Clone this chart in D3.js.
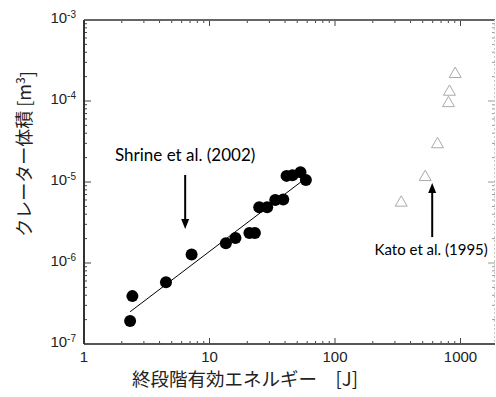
<!DOCTYPE html>
<html>
<head>
<meta charset="utf-8">
<script src="https://cdn.jsdelivr.net/npm/d3@7"></script>
<style>
  body { margin: 0; background: #fff; }
  svg { display: block; }
</style>
</head>
<body>
<div id="chart"></div>
<script>
// Shrine et al. (2002) - filled circles
const shrineEnergy = [2.33, 2.43, 4.5, 7.2, 13.5, 16.1, 20.8, 23.0, 24.9, 28.8, 33.4, 38.7, 41.1, 45.8, 53.1, 58.6];
const shrineVolume = [1.92e-7, 3.9e-7, 5.8e-7, 1.27e-6, 1.75e-6, 2.04e-6, 2.35e-6, 2.35e-6, 4.87e-6, 4.87e-6, 6.0e-6, 6.1e-6, 1.19e-5, 1.21e-5, 1.32e-5, 1.06e-5];

// Kato et al. (1995) - open triangles
const katoEnergy = [907, 817, 802, 656, 523, 337];
const katoVolume = [2.15e-4, 1.30e-4, 9.4e-5, 2.92e-5, 1.15e-5, 5.55e-6];

// fitted power law (end points)
const fitEnergy = [2.33, 54.8];
const fitVolume = [2.5e-7, 1.03e-5];

const xTickValues = [1, 10, 100, 1000];
const xTickLabels = ["1", "10", "100", "1000"];
const yTickValues = [1e-7, 1e-6, 1e-5, 1e-4, 1e-3];
const yTickExps = ["-7", "-6", "-5", "-4", "-3"];

// set the dimensions and margins
const margin = {top: 20, right: 1, bottom: 53, left: 84},
    width = 496 - margin.left - margin.right,
    height = 397 - margin.top - margin.bottom;

const x = d3.scaleLog()
    .domain([1, Math.pow(10, width / 125.5)])
    .range([0, width]);
const y = d3.scaleLog()
    .domain([1e-7, 1e-3])
    .range([height, 0]);

const svg = d3.select("#chart").append("svg")
    .attr("width", width + margin.left + margin.right)
    .attr("height", height + margin.top + margin.bottom)
    .append("g")
    .attr("transform", "translate(" + margin.left + "," + margin.top + ")");

const axisFont = "'Liberation Sans', Arial, sans-serif";
const isMajor = d => Math.abs(Math.log10(d) - Math.round(Math.log10(d))) < 1e-6;

// minor + major ticks (all pointing inward)
const xTicks = x.ticks().filter(d => d >= 1);
const yTicks = y.ticks();

function drawXTicks(y0, dir) {
    svg.append("g").selectAll("line")
        .data(xTicks)
        .enter().append("line")
        .attr("x1", d => x(d)).attr("x2", d => x(d))
        .attr("y1", y0)
        .attr("y2", d => y0 + dir * (isMajor(d) ? 6 : 3))
        .style("stroke", "#444").style("stroke-width", 1);
}
function drawYTicks(x0, dir, col) {
    svg.append("g").selectAll("line")
        .data(yTicks)
        .enter().append("line")
        .attr("y1", d => y(d)).attr("y2", d => y(d))
        .attr("x1", x0)
        .attr("x2", d => x0 + dir * (isMajor(d) ? 7 : 3))
        .style("stroke", col).style("stroke-width", 1);
}
drawXTicks(height, -1);
drawXTicks(0, 1);
drawYTicks(0, 1, "#444");
drawYTicks(width, -1, "#999");

// frame
svg.append("line").attr("x1", 0).attr("x2", width).attr("y1", height).attr("y2", height)
    .style("stroke", "#555").style("stroke-width", 2);
svg.append("line").attr("x1", 0).attr("x2", width).attr("y1", 0).attr("y2", 0)
    .style("stroke", "#666").style("stroke-width", 2);
svg.append("line").attr("x1", 0).attr("x2", 0).attr("y1", 0).attr("y2", height)
    .style("stroke", "#333").style("stroke-width", 2);
svg.append("line").attr("x1", width - 0.5).attr("x2", width - 0.5).attr("y1", 0).attr("y2", height)
    .style("stroke", "#ccc").style("stroke-width", 1).style("stroke-dasharray", "2,2");

// x tick labels
svg.append("g").selectAll("text")
    .data(xTickValues)
    .enter().append("text")
    .attr("x", d => x(d))
    .attr("y", height + 18)
    .style("text-anchor", "middle")
    .style("font-family", axisFont)
    .style("font-size", "15px")
    .style("fill", "#222")
    .text((d, i) => xTickLabels[i]);

// y tick labels: 10^n
const yLab = svg.append("g").selectAll("text")
    .data(yTickValues)
    .enter().append("text")
    .attr("x", -8)
    .attr("y", d => y(d) + 3)
    .style("text-anchor", "end")
    .style("font-family", axisFont)
    .style("font-size", "15px")
    .style("fill", "#222");
yLab.append("tspan").text("10");
yLab.append("tspan")
    .attr("dy", "-0.55em")
    .style("font-size", "10px")
    .text((d, i) => yTickExps[i]);

// axis titles
svg.append("text")
    .attr("x", 245 - margin.left)
    .attr("y", height + 42)
    .style("text-anchor", "middle")
    .style("font-family", "'Noto Sans CJK JP', sans-serif")
    .style("font-size", "18.5px")
    .style("fill", "#222")
    .text("終段階有効エネルギー　[J]");

const yTitle = svg.append("text")
    .attr("transform", "translate(" + (31 - margin.left) + "," + (154 - margin.top) + ") rotate(-90)")
    .style("text-anchor", "middle")
    .style("font-family", "'Noto Sans CJK JP', sans-serif")
    .style("font-size", "18px")
    .style("fill", "#222");
yTitle.append("tspan").text("クレーター体積 [m");
yTitle.append("tspan").attr("dy", "-0.5em").style("font-size", "12px").text("3");
yTitle.append("tspan").attr("dy", "0.5em").text("]");

// fit line
const line = d3.line()
    .x(d => x(d[0]))
    .y(d => y(d[1]));
svg.append("path")
    .attr("d", line(fitEnergy.map((e, i) => [e, fitVolume[i]])))
    .style("fill", "none")
    .style("stroke", "#000")
    .style("stroke-width", 1);

// Shrine points
svg.selectAll(".dot")
    .data(shrineEnergy.map((e, i) => [e, shrineVolume[i]]))
    .enter().append("circle")
    .attr("class", "dot")
    .attr("cx", d => x(d[0]))
    .attr("cy", d => y(d[1]))
    .attr("r", 6)
    .style("fill", "#000");

// Kato triangles
svg.selectAll(".tri")
    .data(katoEnergy.map((e, i) => [e, katoVolume[i]]))
    .enter().append("path")
    .attr("class", "tri")
    .attr("transform", d => "translate(" + x(d[0]) + "," + y(d[1]) + ")")
    .attr("d", d3.symbol().type(d3.symbolTriangle).size(62))
    .style("fill", "#fff")
    .style("stroke", "#aaa")
    .style("stroke-width", 1);

// annotations with arrows
function arrow(xv, yFrom, yTo) {
    const px = x(xv), y0 = y(yFrom), y1 = y(yTo);
    const dir = y1 > y0 ? 1 : -1;
    svg.append("line")
        .attr("x1", px).attr("x2", px)
        .attr("y1", y0).attr("y2", y1 - dir * 8)
        .style("stroke", "#000").style("stroke-width", 2);
    svg.append("path")
        .attr("d", "M" + px + "," + y1 + "L" + (px - 4) + "," + (y1 - dir * 10) + "L" + (px + 4) + "," + (y1 - dir * 10) + "Z")
        .style("fill", "#000");
}
arrow(6.4, 1.22e-5, 2.63e-6);
arrow(595, 2.09e-6, 9.7e-6);

svg.append("text")
    .attr("x", x(6.4))
    .attr("y", y(1.22e-5) - 14)
    .style("text-anchor", "middle")
    .style("font-family", "Lato, sans-serif")
    .style("font-size", "17px")
    .style("fill", "#000")
    .text("Shrine et al. (2002)");

svg.append("text")
    .attr("x", x(595) - 1)
    .attr("y", y(2.09e-6) + 18)
    .style("text-anchor", "middle")
    .style("font-family", "Lato, sans-serif")
    .style("font-size", "15px")
    .style("fill", "#000")
    .text("Kato et al. (1995)");
</script>
</body>
</html>
